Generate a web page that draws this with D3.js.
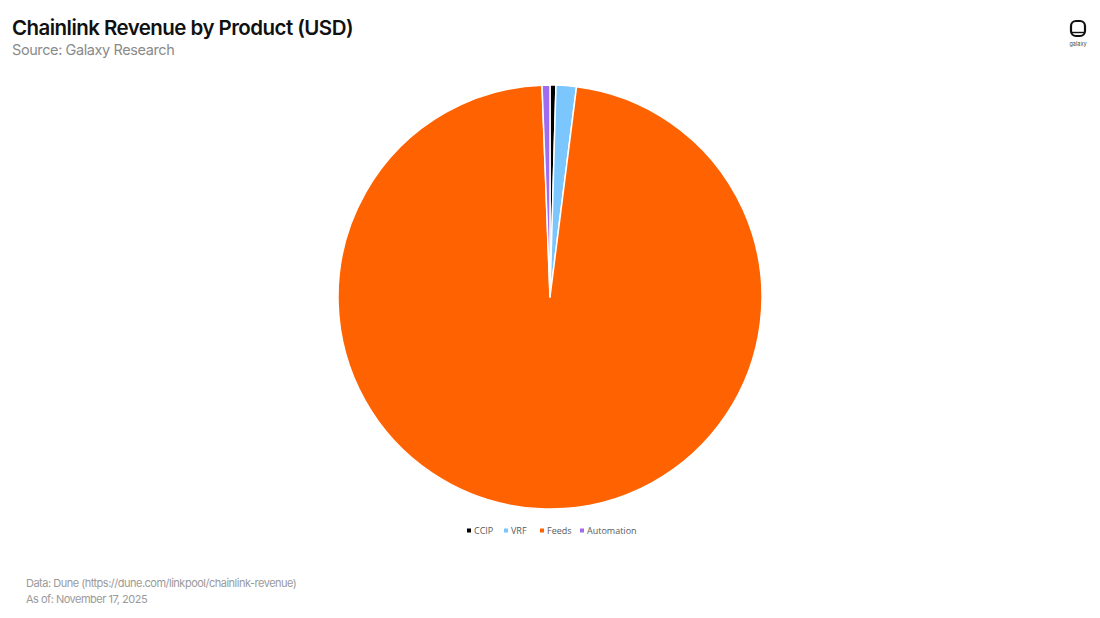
<!DOCTYPE html>
<html>
<head>
<meta charset="utf-8">
<script src="https://cdn.jsdelivr.net/npm/d3@7"></script>
<style>
  html, body { margin: 0; padding: 0; background: #fff; }
  svg { display: block; }
</style>
</head>
<body>
<svg id="chart" width="1100" height="618"></svg>
<script>
// Data (share of revenue, %)
const categories = ["CCIP", "VRF", "Feeds", "Automation"];
const values = [0.45, 1.55, 97.4, 0.6];
const colors = ["#000000", "#7CC6FE", "#FF6200", "#9F6CF0"];

const titleText = "Chainlink Revenue by Product (USD)";
const subtitleText = "Source: Galaxy Research";
const footerLines = ["Data: Dune (https://dune.com/linkpool/chainlink-revenue)", "As of: November 17, 2025"];

const svg = d3.select("#chart");

// Title
svg.append("text")
  .attr("x", 12).attr("y", 35)
  .attr("font-family", "Inter, 'Open Sans', sans-serif")
  .attr("font-weight", 600)
  .attr("font-size", 20.5)
  .attr("letter-spacing", -0.55)
  .attr("fill", "#111")
  .text(titleText);

svg.append("text")
  .attr("x", 12).attr("y", 55)
  .attr("font-family", "Inter, 'Open Sans', sans-serif")
  .attr("font-size", 14.5)
  .attr("letter-spacing", -0.4)
  .attr("fill", "#8a8a8a")
  .text(subtitleText);

// Logo
const logo = svg.append("g");
logo.append("rect")
  .attr("x", 1071).attr("y", 21).attr("width", 14).attr("height", 15)
  .attr("rx", 5).attr("fill", "none").attr("stroke", "#111").attr("stroke-width", 2.2);
logo.append("line")
  .attr("x1", 1072).attr("x2", 1084).attr("y1", 32.5).attr("y2", 32.5)
  .attr("stroke", "#111").attr("stroke-width", 1.4);
logo.append("text")
  .attr("x", 1078).attr("y", 46)
  .attr("text-anchor", "middle")
  .attr("font-family", "Inter, sans-serif")
  .attr("font-size", 5.5)
  .attr("fill", "#444")
  .text("galaxy");

// Pie
const cx = 550, cy = 297, r = 212;
const data = categories.map((c, i) => ({ name: c, value: values[i], color: colors[i] }));
const pie = d3.pie().sort(null).value(d => d.value).startAngle(0).endAngle(2 * Math.PI);
const arc = d3.arc().innerRadius(0).outerRadius(r);

svg.append("g")
  .attr("transform", `translate(${cx},${cy})`)
  .selectAll("path")
  .data(pie(data))
  .join("path")
  .attr("d", arc)
  .attr("fill", d => d.data.color)
  .attr("stroke", "#fff")
  .attr("stroke-width", 1.5)
  .attr("stroke-linejoin", "round");

// Legend
const legendY = 531;
const legend = svg.append("g");
const fontLegend = "'Open Sans', 'Liberation Sans', sans-serif";
const legendX = [467, 504, 540, 580];
categories.forEach((c, i) => {
  const g = legend.append("g").attr("transform", `translate(${legendX[i]},${legendY})`);
  g.append("rect").attr("x", 0).attr("y", -2.5).attr("width", 4).attr("height", 4).attr("fill", colors[i]);
  g.append("text")
    .attr("x", 7).attr("y", 3)
    .attr("font-family", fontLegend)
    .attr("font-size", 9)
    .attr("fill", "#595959")
    .text(c);
});

// Footer
footerLines.forEach((t, i) => {
  svg.append("text")
    .attr("x", 26).attr("y", 587 + i * 16)
    .attr("font-family", "Inter, 'Open Sans', sans-serif")
    .attr("font-size", 11)
    .attr("letter-spacing", -0.5)
    .attr("fill", "#9a9a9a")
    .text(t);
});
</script>
</body>
</html>
